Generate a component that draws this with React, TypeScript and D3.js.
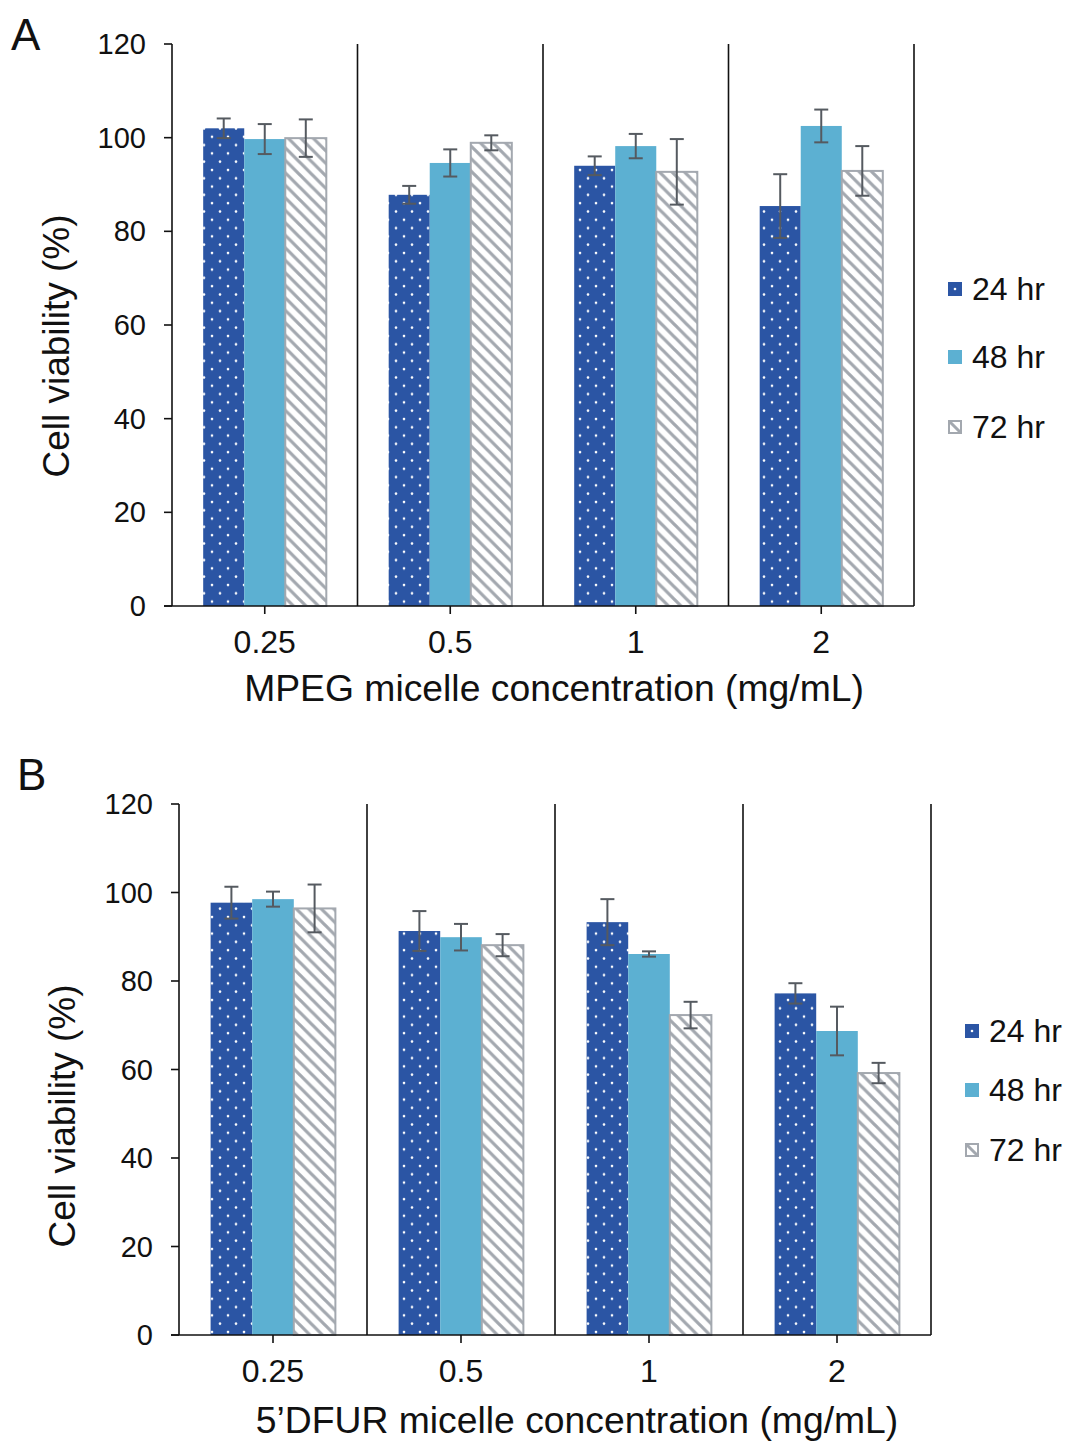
import React from "react";
import * as d3 from "d3";

const categories = ["0.25", "0.5", "1", "2"];
const seriesNames = ["24 hr", "48 hr", "72 hr"];
const yTicks = [0, 20, 40, 60, 80, 100, 120];

// Panel A (MPEG micelle)
const mpeg24 = [102.0, 87.8, 94.0, 85.4];
const mpeg48 = [99.7, 94.6, 98.2, 102.5];
const mpeg72 = [99.9, 98.9, 92.7, 92.9];
const mpeg24Err = [2.1, 1.9, 2.0, 6.8];
const mpeg48Err = [3.2, 2.9, 2.6, 3.5];
const mpeg72Err = [4.0, 1.6, 7.0, 5.3];

// Panel B (5'DFUR micelle)
const dfur24 = [97.7, 91.3, 93.3, 77.2];
const dfur48 = [98.5, 89.9, 86.1, 68.7];
const dfur72 = [96.4, 88.1, 72.3, 59.2];
const dfur24Err = [3.6, 4.5, 5.2, 2.3];
const dfur48Err = [1.7, 3.0, 0.6, 5.5];
const dfur72Err = [5.4, 2.5, 3.0, 2.3];

const FONT = "'Liberation Sans', Arial, Helvetica, sans-serif";
const C24 = "#2b55a4";
const C48 = "#5cb0d2";
const HATCH = "#a3a8af";
const ERR = "#555a60";

type PanelProps = {
  id: string;
  letter: string;
  letterX: number;
  letterY: number;
  x0: number;
  x1: number;
  yTop: number;
  yBottom: number;
  values: number[][];
  errors: number[][];
  tickLabelY: number;
  title: string;
  titleX: number;
  titleY: number;
  yTitleX: number;
  yTitleY: number;
  legendX: number;
  legendYs: number[];
};

function Panel(p: PanelProps) {
  const x = d3.scaleBand<string>().domain(categories).range([p.x0, p.x1]).padding(0);
  const inner = d3
    .scaleBand<string>()
    .domain(seriesNames)
    .range([0, x.bandwidth()])
    .paddingInner(0)
    .paddingOuter(0.76);
  const y = d3.scaleLinear().domain([0, 120]).range([p.yBottom, p.yTop]);
  const fills = [`url(#dots-${p.id})`, C48, `url(#hatch-${p.id})`];
  const H = 12.5;

  return (
    <g>
      <defs>
        <pattern id={`dots-${p.id}`} patternUnits="userSpaceOnUse" width={16} height={16.6}>
          <rect width={16} height={16.6} fill={C24} />
          <circle cx={4} cy={4} r={1.3} fill="#ffffff" />
          <circle cx={12} cy={12.3} r={1.3} fill="#ffffff" />
        </pattern>
        <pattern id={`hatch-${p.id}`} patternUnits="userSpaceOnUse" width={H} height={H}>
          <rect width={H} height={H} fill="#ffffff" />
          <path
            d={`M${-H / 2},${H / 2} L${H / 2},${H * 1.5} M${-H / 2},${-H / 2} L${H * 1.5},${H * 1.5} M${H / 2},${-H / 2} L${H * 1.5},${H / 2}`}
            stroke={HATCH}
            strokeWidth={3.2}
          />
        </pattern>
      </defs>
      <text x={p.letterX} y={p.letterY} fontFamily={FONT} fontSize={44} fill="#111">
        {p.letter}
      </text>
      {/* bars */}
      {categories.map((c, ci) =>
        seriesNames.map((s, si) => {
          const v = p.values[si][ci];
          const bx = (x(c) as number) + (inner(s) as number);
          const bw = inner.bandwidth();
          return (
            <rect
              key={`${c}-${s}`}
              x={bx}
              y={y(v)}
              width={bw}
              height={y(0) - y(v)}
              fill={fills[si]}
              stroke={si === 2 ? HATCH : "none"}
              strokeWidth={si === 2 ? 2 : 0}
            />
          );
        })
      )}
      {/* error bars */}
      {categories.map((c, ci) =>
        seriesNames.map((s, si) => {
          const v = p.values[si][ci];
          const e = p.errors[si][ci];
          const cx = (x(c) as number) + (inner(s) as number) + inner.bandwidth() / 2;
          return (
            <g key={`e-${c}-${s}`} stroke={ERR} strokeWidth={2}>
              <line x1={cx} x2={cx} y1={y(v + e)} y2={y(v - e)} />
              <line x1={cx - 7} x2={cx + 7} y1={y(v + e)} y2={y(v + e)} />
              <line x1={cx - 7} x2={cx + 7} y1={y(v - e)} y2={y(v - e)} />
            </g>
          );
        })
      )}
      {/* separators */}
      {categories.map((c) => {
        const sx = (x(c) as number) + x.bandwidth();
        return <line key={`sep-${c}`} x1={sx} x2={sx} y1={p.yTop} y2={p.yBottom} stroke="#111" strokeWidth={1.6} />;
      })}
      {/* y axis */}
      <line x1={p.x0} x2={p.x0} y1={p.yTop} y2={p.yBottom} stroke="#111" strokeWidth={1.6} />
      {yTicks.map((t) => (
        <g key={`yt-${t}`}>
          <line x1={p.x0 - 8} x2={p.x0} y1={y(t)} y2={y(t)} stroke="#111" strokeWidth={1.6} />
          <text
            x={p.x0 - 26}
            y={y(t)}
            textAnchor="end"
            dominantBaseline="central"
            fontFamily={FONT}
            fontSize={29}
            fill="#111"
          >
            {t}
          </text>
        </g>
      ))}
      {/* x axis */}
      <line x1={p.x0 - 8} x2={p.x1} y1={p.yBottom} y2={p.yBottom} stroke="#111" strokeWidth={1.6} />
      {categories.map((c) => {
        const cx = (x(c) as number) + x.bandwidth() / 2;
        return (
          <g key={`xt-${c}`}>
            <line x1={cx} x2={cx} y1={p.yBottom} y2={p.yBottom + 8} stroke="#111" strokeWidth={1.6} />
            <text x={cx} y={p.tickLabelY} textAnchor="middle" fontFamily={FONT} fontSize={32} fill="#111">
              {c}
            </text>
          </g>
        );
      })}
      <text x={p.titleX} y={p.titleY} textAnchor="middle" fontFamily={FONT} fontSize={37.3} fill="#111">
        {p.title}
      </text>
      <text
        transform={`translate(${p.yTitleX},${p.yTitleY}) rotate(-90)`}
        textAnchor="middle"
        dominantBaseline="central"
        fontFamily={FONT}
        fontSize={37}
        fill="#111"
      >
        Cell viability (%)
      </text>
      {/* legend */}
      {seriesNames.map((s, si) => {
        const ly = p.legendYs[si];
        return (
          <g key={`lg-${s}`}>
            {si === 0 && (
              <g>
                <rect x={p.legendX} y={ly - 7} width={14} height={14} fill={C24} />
                <circle cx={p.legendX + 7} cy={ly} r={1.3} fill="#fff" />
              </g>
            )}
            {si === 1 && <rect x={p.legendX} y={ly - 7} width={14} height={14} fill={C48} />}
            {si === 2 && (
              <g>
                <rect x={p.legendX + 1} y={ly - 6} width={12} height={12} fill="#fff" stroke={HATCH} strokeWidth={2} />
                <line x1={p.legendX + 2} y1={ly - 5} x2={p.legendX + 12} y2={ly + 5} stroke={HATCH} strokeWidth={3} />
              </g>
            )}
            <text
              x={p.legendX + 24}
              y={ly}
              dominantBaseline="central"
              fontFamily={FONT}
              fontSize={32}
              fill="#111"
            >
              {s}
            </text>
          </g>
        );
      })}
    </g>
  );
}

export default function App() {
  return (
    <svg
      width={1067}
      height={1443}
      style={{ position: "absolute", left: 0, top: 0, display: "block", background: "#fff" }}
    >
      <rect width={1067} height={1443} fill="#fff" />
      <Panel
        id="a"
        letter="A"
        letterX={11}
        letterY={50}
        x0={172}
        x1={914}
        yTop={44}
        yBottom={606}
        values={[mpeg24, mpeg48, mpeg72]}
        errors={[mpeg24Err, mpeg48Err, mpeg72Err]}
        tickLabelY={653}
        title="MPEG micelle concentration (mg/mL)"
        titleX={554}
        titleY={701}
        yTitleX={56}
        yTitleY={346}
        legendX={948}
        legendYs={[289, 357, 427]}
      />
      <Panel
        id="b"
        letter="B"
        letterX={17}
        letterY={790}
        x0={179}
        x1={931}
        yTop={804}
        yBottom={1335}
        values={[dfur24, dfur48, dfur72]}
        errors={[dfur24Err, dfur48Err, dfur72Err]}
        tickLabelY={1382}
        title="5’DFUR micelle concentration (mg/mL)"
        titleX={577}
        titleY={1433}
        yTitleX={62}
        yTitleY={1116}
        legendX={965}
        legendYs={[1031, 1090, 1150]}
      />
    </svg>
  );
}
